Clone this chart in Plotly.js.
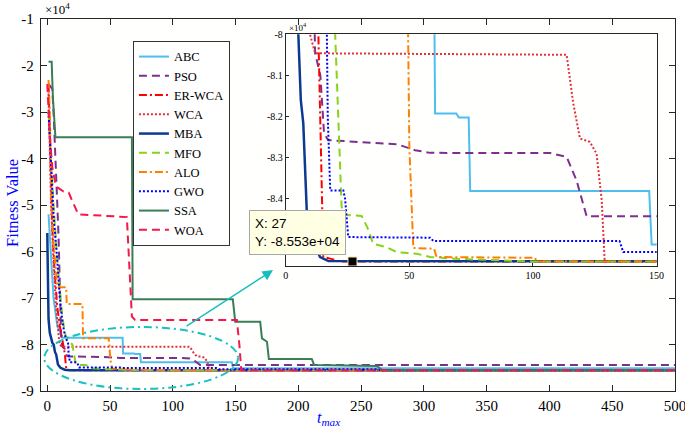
<!DOCTYPE html>
<html>
<head>
<meta charset="utf-8">
<script src="https://cdn.plot.ly/plotly-3.0.1.min.js"></script>
<style>html,body{margin:0;padding:0;background:#fff;}#chart{width:685px;height:432px;}</style>
</head>
<body>
<div id="chart"></div>
<script>
// ---------- data ----------
const names = ['ABC','PSO','ER-WCA','WCA','MBA','MFO','ALO','GWO','SSA','WOA'];

const abcT = [1,3,5,8,12,60,60.4,69,70,74,74.6,147,148,500];
const abcV = [-52000,-62000,-70000,-76000,-78540,-78540,-81927,-81927,-82024,-82024,-83813,-83813,-85114,-85114];

const psoT = [1,4,5,6.5,8,9,10,10.5,11,11.9,14,15.5,17.2,44.9,52.3,58.4,106.9,113.6,117.6,121.7,500];
const psoV = [-24000,-25000,-30000,-42000,-50000,-57000,-66000,-72000,-78000,-80463,-81000,-82415,-82577,-82675,-82821,-82886,-82890,-82984,-83553,-84431,-84431];

const erwcaT = [1,2,3,4,6,8,10,12,13.2,14,14.8,15.2,18,22,500];
const erwcaV = [-24000,-35000,-45000,-55000,-65000,-72000,-76000,-79000,-80000,-82000,-84500,-85420,-85460,-85530,-85530];

const wcaT = [1,2,3,5,7,9,9.8,11.9,113.6,116.3,119,123,125.7,127.8,129,500];
const wcaV = [-26000,-38000,-50000,-62000,-72000,-78000,-80000,-80463,-80500,-81683,-82537,-82618,-82902,-84041,-85528,-85530];

const mbaT = [0,1,2,3,4,5.1,6.1,7.1,8.5,10.5,13.9,17.3,500];
const mbaV = [-56000,-74500,-77500,-79000,-79600,-80000,-81600,-82170,-84280,-85016,-85420,-85520,-85530];

const mfoT = [1,3,5,8,10,12,14,16,20,22.6,24,30.7,33,35.4,40.8,44.9,53,58.4,69.1,98.8,500];
const mfoV = [-30000,-40000,-50000,-62000,-68000,-74000,-77500,-79000,-80000,-84200,-84400,-84420,-84700,-85100,-85180,-85300,-85340,-85420,-85463,-85530,-85530];

const aloT = [1,2,3,5,8,15,15.5,28,28.5,48.8,49.5,50,51.6,60,61,100.8,101.5,500];
const aloV = [-23100,-30000,-45000,-58000,-67700,-67700,-71300,-71300,-78670,-78670,-80000,-82740,-85200,-85220,-85420,-85440,-85530,-85530];

const gwoT = [1,3,5,8,10,12,14,16.6,17,18,23.3,24,25.3,58.4,59.7,135,136.5,262,266,500];
const gwoV = [-30000,-40000,-52000,-62000,-70000,-75000,-78000,-79800,-82000,-83800,-83800,-84000,-84935,-84950,-85030,-85030,-85300,-85300,-85530,-85530];

const ssaT = [1,3.5,4.5,5.5,6.5,67.4,68,147.8,149.7,169.6,171,175,176.5,210.7,212.5,262.5,267,500];
const ssaV = [-19200,-19200,-27000,-32000,-35440,-35440,-70280,-70280,-75100,-75100,-78670,-79400,-83120,-83120,-84400,-84600,-85530,-85530];

const woaT = [0,2,4,7,13,17,19.7,24.7,63.4,65.5,67.4,70,151,153,154.5,500];
const woaV = [-24000,-35000,-42000,-46000,-47100,-47300,-49000,-52000,-52600,-63000,-74000,-74730,-74730,-80000,-85530,-85530];

const xTicks = [0,50,100,150,200,250,300,350,400,450,500];
const yTickVals = [-90000,-80000,-70000,-60000,-50000,-40000,-30000,-20000,-10000];
const yTickText = ['-9','-8','-7','-6','-5','-4','-3','-2','-1'];
const insetXTicks = [0,50,100,150];
const insetYVals = [-84000,-83000,-82000,-81000,-80000];
const insetYText = ['-8.4','-8.3','-8.2','-8.1','-8'];

const tipX = [27];
const tipY = [-85530];
const tipText = 'X: 27<br>Y: -8.553e+04';

// ---------- styles ----------
const seriesT = [abcT,psoT,erwcaT,wcaT,mbaT,mfoT,aloT,gwoT,ssaT,woaT];
const seriesV = [abcV,psoV,erwcaV,wcaV,mbaV,mfoV,aloV,gwoV,ssaV,woaV];
const styles = [
  {color:'#4DBEEE', dash:'solid', width:2},
  {color:'#7E2F8E', dash:'8px,5px', width:2},
  {color:'#FF0000', dash:'8px,3px,2px,3px', width:2},
  {color:'#E3303F', dash:'2px,2px', width:2},
  {color:'#0B3A8F', dash:'solid', width:2.5},
  {color:'#86D31A', dash:'8px,5px', width:2},
  {color:'#FF8000', dash:'8px,3px,2px,3px', width:2},
  {color:'#0000FF', dash:'2px,2px', width:2},
  {color:'#3B7D57', dash:'solid', width:2},
  {color:'#F5174C', dash:'8px,5px', width:2}
];

const traces = [];
names.forEach((n,i)=>{
  traces.push({x:seriesT[i], y:seriesV[i], name:n, type:'scatter', mode:'lines',
    line:styles[i], xaxis:'x', yaxis:'y', legendgroup:n, hoverinfo:'skip'});
});
names.forEach((n,i)=>{
  traces.push({x:seriesT[i], y:seriesV[i], name:n, type:'scatter', mode:'lines',
    line:styles[i], xaxis:'x2', yaxis:'y2', legendgroup:n, showlegend:false, hoverinfo:'skip'});
});
traces.push({x:tipX, y:tipY, type:'scatter', mode:'markers', xaxis:'x2', yaxis:'y2', showlegend:false,
  marker:{symbol:'square', size:9, color:'#000', line:{color:'#F3E3A8', width:1}}, hoverinfo:'skip'});

const serif = 'Liberation Serif, DejaVu Serif, serif';
const axCommon = {showgrid:false, zeroline:false, showline:true, linecolor:'#262626', linewidth:1.2,
  ticks:'inside', tickcolor:'#262626', mirror:'ticks'};

const layout = {
  width:685, height:432,
  margin:{l:41, r:10, t:19, b:41},
  paper_bgcolor:'#ffffff', plot_bgcolor:'#fffffe',
  font:{family:serif, size:15, color:'#000'},
  hovermode:false,
  xaxis:Object.assign({}, axCommon, {domain:[0,1], range:[-5,500], tickvals:xTicks, ticklen:6,
    tickfont:{family:serif, size:15}, ticklabelstandoff:1, ticklabeloverflow:'allow'}),
  yaxis:Object.assign({}, axCommon, {domain:[0,1], range:[-90000,-10000], tickvals:yTickVals, ticktext:yTickText, ticklen:6,
    tickfont:{family:serif, size:15}, ticklabelstandoff:3}),
  xaxis2:Object.assign({}, axCommon, {domain:[0.386,0.971], anchor:'y2', range:[0,150], tickvals:insetXTicks, ticklen:3,
    tickfont:{family:serif, size:10}, mirror:true, linewidth:1}),
  yaxis2:Object.assign({}, axCommon, {domain:[0.337,0.959], anchor:'x2', range:[-85630,-80000], tickvals:insetYVals, ticktext:insetYText, ticklen:3,
    tickfont:{family:serif, size:10}, mirror:true, linewidth:1}),
  showlegend:true,
  legend:{x:0.145, y:0.941, xanchor:'left', yanchor:'top', bgcolor:'#ffffff', bordercolor:'#333333', borderwidth:1,
    font:{family:serif, size:12.5}, tracegroupgap:0},
  shapes:[
    {type:'circle', xref:'x', yref:'y', x0:-2.4, x1:152, y0:-76237, y1:-89570,
     line:{color:'#19C0C0', width:2, dash:'8px,4px,2px,4px'}, layer:'above'}
  ],
  annotations:[
    {xref:'paper', yref:'paper', x:0.003, y:1.027, xanchor:'left', yanchor:'middle', showarrow:false,
     text:'×10<sup>4</sup>', font:{family:serif, size:13}},
    {xref:'paper', yref:'paper', x:0.388, y:0.978, xanchor:'left', yanchor:'middle', showarrow:false,
     text:'×10<sup>4</sup>', font:{family:serif, size:9}},
    {xref:'paper', yref:'paper', x:-0.046, y:0.505, xanchor:'center', yanchor:'middle', showarrow:false, textangle:-90,
     text:'Fitness Value', font:{family:serif, size:16.5, color:'#0000FF'}},
    {xref:'paper', yref:'paper', x:0.454, y:-0.106, xanchor:'center', yanchor:'bottom', showarrow:false,
     text:'<i>t</i><sub><i>max</i></sub>', font:{family:serif, size:16, color:'#0000FF'}},
    {xref:'paper', yref:'paper', x:0.366, y:0.325, showarrow:true, text:'', ax:-88, ay:57,
     arrowcolor:'#17BEBE', arrowwidth:1.5, arrowhead:2, arrowsize:1.4},
    {xref:'paper', yref:'paper', x:0.4046, y:0.426, xanchor:'center', yanchor:'middle', showarrow:false,
     text:tipText, align:'left', bgcolor:'#FFFFE4', bordercolor:'#A8A8A8', borderwidth:1, borderpad:5,
     font:{family:'Liberation Sans, Arial, sans-serif', size:13.5, color:'#000'}}
  ]
};

Plotly.newPlot('chart', traces, layout, {staticPlot:true, displayModeBar:false});
</script>
</body>
</html>
